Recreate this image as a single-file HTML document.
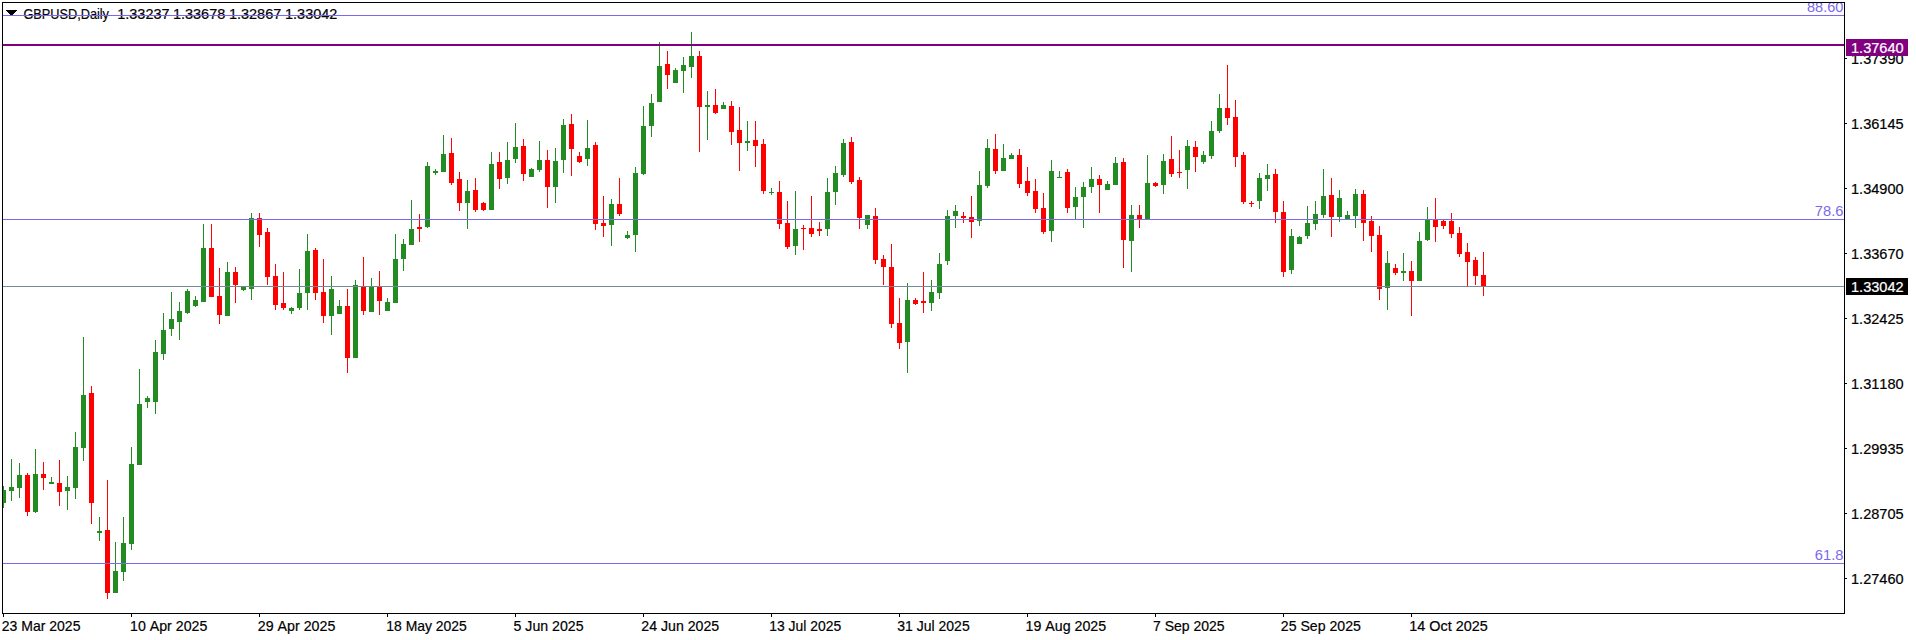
<!DOCTYPE html>
<html lang="en"><head><meta charset="utf-8"><title>GBPUSD,Daily</title>
<style>html,body{margin:0;padding:0;background:#fff;overflow:hidden}svg{display:block}text{font-family:"Liberation Sans", sans-serif;font-size:14.4px;font-kerning:none;stroke-width:.2px}</style>
</head><body>
<svg width="1916" height="640" viewBox="0 0 1916 640">
<rect width="1916" height="640" fill="#fff"/>
<g id="title" fill="#000" stroke="#000">
<path d="M6 10h11v1h-1v1h-1v1h-1v1h-1v1h-1v1h-1v-1h-1v-1h-1v-1h-1v-1h-1v-1h-1z" stroke="none" shape-rendering="crispEdges"/>
<text x="23.4" y="19" textLength="85.6" lengthAdjust="spacingAndGlyphs">GBPUSD,Daily</text>
<text x="117.2" y="19" textLength="52.4" lengthAdjust="spacingAndGlyphs">1.33237</text>
<text x="172.9" y="19" textLength="52.4" lengthAdjust="spacingAndGlyphs">1.33678</text>
<text x="228.9" y="19" textLength="52.4" lengthAdjust="spacingAndGlyphs">1.32867</text>
<text x="285" y="19" textLength="52.4" lengthAdjust="spacingAndGlyphs">1.33042</text>
</g>
<g id="candles" shape-rendering="crispEdges">
<rect x="3" y="486" width="1" height="22" fill="#228B22"/>
<rect x="3" y="490" width="3" height="13" fill="#228B22"/>
<rect x="11" y="459" width="1" height="42" fill="#228B22"/>
<rect x="9" y="487" width="5" height="4" fill="#228B22"/>
<rect x="19" y="463" width="1" height="35" fill="#228B22"/>
<rect x="17" y="475" width="5" height="13" fill="#228B22"/>
<rect x="27" y="473" width="1" height="43" fill="#FF0000"/>
<rect x="25" y="475" width="5" height="37" fill="#FF0000"/>
<rect x="35" y="449" width="1" height="64" fill="#228B22"/>
<rect x="33" y="474" width="5" height="38" fill="#228B22"/>
<rect x="43" y="462" width="1" height="28" fill="#FF0000"/>
<rect x="41" y="474" width="5" height="4" fill="#FF0000"/>
<rect x="51" y="477" width="1" height="7" fill="#228B22"/>
<rect x="49" y="482" width="5" height="2" fill="#228B22"/>
<rect x="59" y="460" width="1" height="46" fill="#FF0000"/>
<rect x="57" y="483" width="5" height="9" fill="#FF0000"/>
<rect x="67" y="476" width="1" height="34" fill="#228B22"/>
<rect x="65" y="487" width="5" height="4" fill="#228B22"/>
<rect x="75" y="432" width="1" height="67" fill="#228B22"/>
<rect x="73" y="447" width="5" height="41" fill="#228B22"/>
<rect x="83" y="337" width="1" height="124" fill="#228B22"/>
<rect x="81" y="395" width="5" height="53" fill="#228B22"/>
<rect x="91" y="386" width="1" height="138" fill="#FF0000"/>
<rect x="89" y="393" width="5" height="110" fill="#FF0000"/>
<rect x="99" y="517" width="1" height="24" fill="#228B22"/>
<rect x="97" y="531" width="5" height="2" fill="#228B22"/>
<rect x="107" y="480" width="1" height="119" fill="#FF0000"/>
<rect x="105" y="530" width="5" height="63" fill="#FF0000"/>
<rect x="115" y="542" width="1" height="51" fill="#228B22"/>
<rect x="113" y="571" width="5" height="22" fill="#228B22"/>
<rect x="123" y="517" width="1" height="64" fill="#228B22"/>
<rect x="121" y="543" width="5" height="29" fill="#228B22"/>
<rect x="131" y="447" width="1" height="103" fill="#228B22"/>
<rect x="129" y="464" width="5" height="80" fill="#228B22"/>
<rect x="139" y="369" width="1" height="96" fill="#228B22"/>
<rect x="137" y="404" width="5" height="61" fill="#228B22"/>
<rect x="147" y="396" width="1" height="12" fill="#228B22"/>
<rect x="145" y="398" width="5" height="4" fill="#228B22"/>
<rect x="155" y="340" width="1" height="74" fill="#228B22"/>
<rect x="153" y="352" width="5" height="50" fill="#228B22"/>
<rect x="163" y="313" width="1" height="47" fill="#228B22"/>
<rect x="161" y="330" width="5" height="24" fill="#228B22"/>
<rect x="171" y="292" width="1" height="44" fill="#228B22"/>
<rect x="169" y="319" width="5" height="10" fill="#228B22"/>
<rect x="179" y="302" width="1" height="38" fill="#228B22"/>
<rect x="177" y="311" width="5" height="11" fill="#228B22"/>
<rect x="187" y="289" width="1" height="25" fill="#228B22"/>
<rect x="185" y="291" width="5" height="22" fill="#228B22"/>
<rect x="195" y="296" width="1" height="11" fill="#228B22"/>
<rect x="193" y="300" width="5" height="6" fill="#228B22"/>
<rect x="203" y="224" width="1" height="78" fill="#228B22"/>
<rect x="201" y="248" width="5" height="54" fill="#228B22"/>
<rect x="211" y="224" width="1" height="73" fill="#FF0000"/>
<rect x="209" y="248" width="5" height="49" fill="#FF0000"/>
<rect x="219" y="268" width="1" height="56" fill="#FF0000"/>
<rect x="217" y="296" width="5" height="19" fill="#FF0000"/>
<rect x="227" y="262" width="1" height="54" fill="#228B22"/>
<rect x="225" y="272" width="5" height="44" fill="#228B22"/>
<rect x="235" y="267" width="1" height="36" fill="#FF0000"/>
<rect x="233" y="272" width="5" height="13" fill="#FF0000"/>
<rect x="243" y="286" width="1" height="5" fill="#228B22"/>
<rect x="241" y="287" width="5" height="3" fill="#228B22"/>
<rect x="251" y="213" width="1" height="87" fill="#228B22"/>
<rect x="249" y="218" width="5" height="71" fill="#228B22"/>
<rect x="259" y="213" width="1" height="34" fill="#FF0000"/>
<rect x="257" y="218" width="5" height="17" fill="#FF0000"/>
<rect x="267" y="228" width="1" height="57" fill="#FF0000"/>
<rect x="265" y="232" width="5" height="45" fill="#FF0000"/>
<rect x="275" y="264" width="1" height="46" fill="#FF0000"/>
<rect x="273" y="276" width="5" height="29" fill="#FF0000"/>
<rect x="283" y="272" width="1" height="38" fill="#FF0000"/>
<rect x="281" y="303" width="5" height="5" fill="#FF0000"/>
<rect x="291" y="307" width="1" height="7" fill="#228B22"/>
<rect x="289" y="308" width="5" height="3" fill="#228B22"/>
<rect x="299" y="269" width="1" height="41" fill="#228B22"/>
<rect x="297" y="293" width="5" height="15" fill="#228B22"/>
<rect x="307" y="234" width="1" height="76" fill="#228B22"/>
<rect x="305" y="251" width="5" height="42" fill="#228B22"/>
<rect x="315" y="248" width="1" height="52" fill="#FF0000"/>
<rect x="313" y="250" width="5" height="43" fill="#FF0000"/>
<rect x="323" y="259" width="1" height="64" fill="#FF0000"/>
<rect x="321" y="292" width="5" height="24" fill="#FF0000"/>
<rect x="331" y="276" width="1" height="59" fill="#228B22"/>
<rect x="329" y="289" width="5" height="27" fill="#228B22"/>
<rect x="339" y="300" width="1" height="14" fill="#228B22"/>
<rect x="337" y="306" width="5" height="8" fill="#228B22"/>
<rect x="347" y="289" width="1" height="84" fill="#FF0000"/>
<rect x="345" y="306" width="5" height="52" fill="#FF0000"/>
<rect x="355" y="280" width="1" height="78" fill="#228B22"/>
<rect x="353" y="285" width="5" height="73" fill="#228B22"/>
<rect x="363" y="257" width="1" height="58" fill="#FF0000"/>
<rect x="361" y="286" width="5" height="25" fill="#FF0000"/>
<rect x="371" y="278" width="1" height="34" fill="#228B22"/>
<rect x="369" y="287" width="5" height="25" fill="#228B22"/>
<rect x="379" y="271" width="1" height="44" fill="#FF0000"/>
<rect x="377" y="287" width="5" height="14" fill="#FF0000"/>
<rect x="387" y="298" width="1" height="13" fill="#228B22"/>
<rect x="385" y="302" width="5" height="9" fill="#228B22"/>
<rect x="395" y="234" width="1" height="69" fill="#228B22"/>
<rect x="393" y="259" width="5" height="44" fill="#228B22"/>
<rect x="403" y="239" width="1" height="32" fill="#228B22"/>
<rect x="401" y="244" width="5" height="15" fill="#228B22"/>
<rect x="411" y="200" width="1" height="45" fill="#228B22"/>
<rect x="409" y="229" width="5" height="16" fill="#228B22"/>
<rect x="419" y="214" width="1" height="28" fill="#FF0000"/>
<rect x="417" y="227" width="5" height="2" fill="#FF0000"/>
<rect x="427" y="162" width="1" height="66" fill="#228B22"/>
<rect x="425" y="166" width="5" height="61" fill="#228B22"/>
<rect x="435" y="169" width="1" height="6" fill="#228B22"/>
<rect x="433" y="171" width="5" height="2" fill="#228B22"/>
<rect x="443" y="135" width="1" height="37" fill="#228B22"/>
<rect x="441" y="154" width="5" height="18" fill="#228B22"/>
<rect x="451" y="138" width="1" height="47" fill="#FF0000"/>
<rect x="449" y="153" width="5" height="30" fill="#FF0000"/>
<rect x="459" y="172" width="1" height="39" fill="#FF0000"/>
<rect x="457" y="179" width="5" height="24" fill="#FF0000"/>
<rect x="467" y="180" width="1" height="49" fill="#228B22"/>
<rect x="465" y="191" width="5" height="12" fill="#228B22"/>
<rect x="475" y="178" width="1" height="34" fill="#FF0000"/>
<rect x="473" y="190" width="5" height="20" fill="#FF0000"/>
<rect x="483" y="202" width="1" height="9" fill="#FF0000"/>
<rect x="481" y="203" width="5" height="7" fill="#FF0000"/>
<rect x="491" y="152" width="1" height="58" fill="#228B22"/>
<rect x="489" y="164" width="5" height="46" fill="#228B22"/>
<rect x="499" y="152" width="1" height="37" fill="#FF0000"/>
<rect x="497" y="162" width="5" height="17" fill="#FF0000"/>
<rect x="507" y="142" width="1" height="42" fill="#228B22"/>
<rect x="505" y="160" width="5" height="18" fill="#228B22"/>
<rect x="515" y="123" width="1" height="40" fill="#228B22"/>
<rect x="513" y="147" width="5" height="12" fill="#228B22"/>
<rect x="523" y="139" width="1" height="42" fill="#FF0000"/>
<rect x="521" y="146" width="5" height="28" fill="#FF0000"/>
<rect x="531" y="168" width="1" height="9" fill="#228B22"/>
<rect x="529" y="169" width="5" height="8" fill="#228B22"/>
<rect x="539" y="141" width="1" height="31" fill="#228B22"/>
<rect x="537" y="160" width="5" height="10" fill="#228B22"/>
<rect x="547" y="150" width="1" height="58" fill="#FF0000"/>
<rect x="545" y="160" width="5" height="27" fill="#FF0000"/>
<rect x="555" y="148" width="1" height="55" fill="#228B22"/>
<rect x="553" y="161" width="5" height="26" fill="#228B22"/>
<rect x="563" y="119" width="1" height="54" fill="#228B22"/>
<rect x="561" y="125" width="5" height="35" fill="#228B22"/>
<rect x="571" y="114" width="1" height="62" fill="#FF0000"/>
<rect x="569" y="124" width="5" height="25" fill="#FF0000"/>
<rect x="579" y="152" width="1" height="11" fill="#FF0000"/>
<rect x="577" y="156" width="5" height="6" fill="#FF0000"/>
<rect x="587" y="120" width="1" height="46" fill="#228B22"/>
<rect x="585" y="148" width="5" height="11" fill="#228B22"/>
<rect x="595" y="142" width="1" height="88" fill="#FF0000"/>
<rect x="593" y="145" width="5" height="79" fill="#FF0000"/>
<rect x="603" y="196" width="1" height="41" fill="#FF0000"/>
<rect x="601" y="223" width="5" height="3" fill="#FF0000"/>
<rect x="611" y="199" width="1" height="47" fill="#228B22"/>
<rect x="609" y="204" width="5" height="21" fill="#228B22"/>
<rect x="619" y="178" width="1" height="38" fill="#FF0000"/>
<rect x="617" y="204" width="5" height="10" fill="#FF0000"/>
<rect x="627" y="231" width="1" height="8" fill="#228B22"/>
<rect x="625" y="235" width="5" height="3" fill="#228B22"/>
<rect x="635" y="167" width="1" height="85" fill="#228B22"/>
<rect x="633" y="173" width="5" height="62" fill="#228B22"/>
<rect x="643" y="106" width="1" height="69" fill="#228B22"/>
<rect x="641" y="126" width="5" height="48" fill="#228B22"/>
<rect x="651" y="94" width="1" height="43" fill="#228B22"/>
<rect x="649" y="103" width="5" height="23" fill="#228B22"/>
<rect x="659" y="42" width="1" height="60" fill="#228B22"/>
<rect x="657" y="66" width="5" height="36" fill="#228B22"/>
<rect x="667" y="51" width="1" height="38" fill="#FF0000"/>
<rect x="665" y="64" width="5" height="11" fill="#FF0000"/>
<rect x="675" y="68" width="1" height="15" fill="#228B22"/>
<rect x="673" y="70" width="5" height="13" fill="#228B22"/>
<rect x="683" y="57" width="1" height="36" fill="#228B22"/>
<rect x="681" y="65" width="5" height="6" fill="#228B22"/>
<rect x="691" y="32" width="1" height="46" fill="#228B22"/>
<rect x="689" y="56" width="5" height="11" fill="#228B22"/>
<rect x="699" y="51" width="1" height="101" fill="#FF0000"/>
<rect x="697" y="56" width="5" height="51" fill="#FF0000"/>
<rect x="707" y="91" width="1" height="49" fill="#228B22"/>
<rect x="705" y="105" width="5" height="2" fill="#228B22"/>
<rect x="715" y="89" width="1" height="25" fill="#FF0000"/>
<rect x="713" y="105" width="5" height="8" fill="#FF0000"/>
<rect x="723" y="102" width="1" height="7" fill="#228B22"/>
<rect x="721" y="105" width="5" height="4" fill="#228B22"/>
<rect x="731" y="101" width="1" height="44" fill="#FF0000"/>
<rect x="729" y="106" width="5" height="26" fill="#FF0000"/>
<rect x="739" y="107" width="1" height="64" fill="#FF0000"/>
<rect x="737" y="130" width="5" height="13" fill="#FF0000"/>
<rect x="747" y="121" width="1" height="30" fill="#228B22"/>
<rect x="745" y="141" width="5" height="2" fill="#228B22"/>
<rect x="755" y="121" width="1" height="46" fill="#FF0000"/>
<rect x="753" y="140" width="5" height="6" fill="#FF0000"/>
<rect x="763" y="139" width="1" height="55" fill="#FF0000"/>
<rect x="761" y="144" width="5" height="47" fill="#FF0000"/>
<rect x="771" y="188" width="1" height="7" fill="#228B22"/>
<rect x="769" y="192" width="5" height="1" fill="#228B22"/>
<rect x="779" y="181" width="1" height="48" fill="#FF0000"/>
<rect x="777" y="192" width="5" height="32" fill="#FF0000"/>
<rect x="787" y="201" width="1" height="48" fill="#FF0000"/>
<rect x="785" y="223" width="5" height="24" fill="#FF0000"/>
<rect x="795" y="191" width="1" height="64" fill="#228B22"/>
<rect x="793" y="229" width="5" height="17" fill="#228B22"/>
<rect x="803" y="225" width="1" height="25" fill="#FF0000"/>
<rect x="801" y="228" width="5" height="1" fill="#FF0000"/>
<rect x="811" y="196" width="1" height="41" fill="#FF0000"/>
<rect x="809" y="228" width="5" height="6" fill="#FF0000"/>
<rect x="819" y="222" width="1" height="14" fill="#FF0000"/>
<rect x="817" y="229" width="5" height="2" fill="#FF0000"/>
<rect x="827" y="178" width="1" height="58" fill="#228B22"/>
<rect x="825" y="192" width="5" height="37" fill="#228B22"/>
<rect x="835" y="166" width="1" height="39" fill="#228B22"/>
<rect x="833" y="173" width="5" height="19" fill="#228B22"/>
<rect x="843" y="139" width="1" height="38" fill="#228B22"/>
<rect x="841" y="143" width="5" height="32" fill="#228B22"/>
<rect x="851" y="137" width="1" height="47" fill="#FF0000"/>
<rect x="849" y="142" width="5" height="40" fill="#FF0000"/>
<rect x="859" y="177" width="1" height="52" fill="#FF0000"/>
<rect x="857" y="180" width="5" height="38" fill="#FF0000"/>
<rect x="867" y="215" width="1" height="14" fill="#228B22"/>
<rect x="865" y="215" width="5" height="10" fill="#228B22"/>
<rect x="875" y="208" width="1" height="56" fill="#FF0000"/>
<rect x="873" y="216" width="5" height="44" fill="#FF0000"/>
<rect x="883" y="255" width="1" height="30" fill="#FF0000"/>
<rect x="881" y="259" width="5" height="8" fill="#FF0000"/>
<rect x="891" y="244" width="1" height="84" fill="#FF0000"/>
<rect x="889" y="267" width="5" height="57" fill="#FF0000"/>
<rect x="899" y="298" width="1" height="51" fill="#FF0000"/>
<rect x="897" y="323" width="5" height="20" fill="#FF0000"/>
<rect x="907" y="283" width="1" height="90" fill="#228B22"/>
<rect x="905" y="300" width="5" height="42" fill="#228B22"/>
<rect x="915" y="298" width="1" height="7" fill="#FF0000"/>
<rect x="913" y="300" width="5" height="4" fill="#FF0000"/>
<rect x="923" y="272" width="1" height="41" fill="#FF0000"/>
<rect x="921" y="301" width="5" height="2" fill="#FF0000"/>
<rect x="931" y="280" width="1" height="31" fill="#228B22"/>
<rect x="929" y="292" width="5" height="11" fill="#228B22"/>
<rect x="939" y="253" width="1" height="46" fill="#228B22"/>
<rect x="937" y="264" width="5" height="29" fill="#228B22"/>
<rect x="947" y="210" width="1" height="55" fill="#228B22"/>
<rect x="945" y="216" width="5" height="45" fill="#228B22"/>
<rect x="955" y="205" width="1" height="23" fill="#228B22"/>
<rect x="953" y="211" width="5" height="5" fill="#228B22"/>
<rect x="963" y="212" width="1" height="11" fill="#FF0000"/>
<rect x="961" y="216" width="5" height="2" fill="#FF0000"/>
<rect x="971" y="196" width="1" height="42" fill="#FF0000"/>
<rect x="969" y="217" width="5" height="5" fill="#FF0000"/>
<rect x="979" y="171" width="1" height="55" fill="#228B22"/>
<rect x="977" y="185" width="5" height="36" fill="#228B22"/>
<rect x="987" y="139" width="1" height="49" fill="#228B22"/>
<rect x="985" y="148" width="5" height="38" fill="#228B22"/>
<rect x="995" y="134" width="1" height="40" fill="#FF0000"/>
<rect x="993" y="149" width="5" height="22" fill="#FF0000"/>
<rect x="1003" y="144" width="1" height="27" fill="#228B22"/>
<rect x="1001" y="158" width="5" height="13" fill="#228B22"/>
<rect x="1011" y="153" width="1" height="6" fill="#228B22"/>
<rect x="1009" y="155" width="5" height="4" fill="#228B22"/>
<rect x="1019" y="149" width="1" height="39" fill="#FF0000"/>
<rect x="1017" y="155" width="5" height="29" fill="#FF0000"/>
<rect x="1027" y="167" width="1" height="29" fill="#FF0000"/>
<rect x="1025" y="181" width="5" height="12" fill="#FF0000"/>
<rect x="1035" y="179" width="1" height="34" fill="#FF0000"/>
<rect x="1033" y="191" width="5" height="18" fill="#FF0000"/>
<rect x="1043" y="193" width="1" height="41" fill="#FF0000"/>
<rect x="1041" y="208" width="5" height="24" fill="#FF0000"/>
<rect x="1051" y="160" width="1" height="82" fill="#228B22"/>
<rect x="1049" y="171" width="5" height="60" fill="#228B22"/>
<rect x="1059" y="171" width="1" height="7" fill="#228B22"/>
<rect x="1057" y="177" width="5" height="1" fill="#228B22"/>
<rect x="1067" y="169" width="1" height="44" fill="#FF0000"/>
<rect x="1065" y="172" width="5" height="36" fill="#FF0000"/>
<rect x="1075" y="187" width="1" height="32" fill="#228B22"/>
<rect x="1073" y="197" width="5" height="10" fill="#228B22"/>
<rect x="1083" y="182" width="1" height="46" fill="#228B22"/>
<rect x="1081" y="187" width="5" height="10" fill="#228B22"/>
<rect x="1091" y="167" width="1" height="26" fill="#228B22"/>
<rect x="1089" y="179" width="5" height="8" fill="#228B22"/>
<rect x="1099" y="175" width="1" height="38" fill="#FF0000"/>
<rect x="1097" y="179" width="5" height="6" fill="#FF0000"/>
<rect x="1107" y="181" width="1" height="9" fill="#228B22"/>
<rect x="1105" y="184" width="5" height="6" fill="#228B22"/>
<rect x="1115" y="157" width="1" height="28" fill="#228B22"/>
<rect x="1113" y="163" width="5" height="22" fill="#228B22"/>
<rect x="1123" y="158" width="1" height="110" fill="#FF0000"/>
<rect x="1121" y="162" width="5" height="78" fill="#FF0000"/>
<rect x="1131" y="205" width="1" height="67" fill="#228B22"/>
<rect x="1129" y="215" width="5" height="26" fill="#228B22"/>
<rect x="1139" y="205" width="1" height="23" fill="#FF0000"/>
<rect x="1137" y="215" width="5" height="4" fill="#FF0000"/>
<rect x="1147" y="155" width="1" height="64" fill="#228B22"/>
<rect x="1145" y="183" width="5" height="36" fill="#228B22"/>
<rect x="1155" y="182" width="1" height="5" fill="#FF0000"/>
<rect x="1153" y="183" width="5" height="3" fill="#FF0000"/>
<rect x="1163" y="154" width="1" height="40" fill="#228B22"/>
<rect x="1161" y="161" width="5" height="24" fill="#228B22"/>
<rect x="1171" y="136" width="1" height="41" fill="#FF0000"/>
<rect x="1169" y="159" width="5" height="15" fill="#FF0000"/>
<rect x="1179" y="150" width="1" height="28" fill="#FF0000"/>
<rect x="1177" y="172" width="5" height="1" fill="#FF0000"/>
<rect x="1187" y="140" width="1" height="49" fill="#228B22"/>
<rect x="1185" y="146" width="5" height="24" fill="#228B22"/>
<rect x="1195" y="141" width="1" height="31" fill="#FF0000"/>
<rect x="1193" y="147" width="5" height="10" fill="#FF0000"/>
<rect x="1203" y="151" width="1" height="13" fill="#228B22"/>
<rect x="1201" y="155" width="5" height="7" fill="#228B22"/>
<rect x="1211" y="121" width="1" height="38" fill="#228B22"/>
<rect x="1209" y="131" width="5" height="25" fill="#228B22"/>
<rect x="1219" y="94" width="1" height="39" fill="#228B22"/>
<rect x="1217" y="108" width="5" height="23" fill="#228B22"/>
<rect x="1227" y="65" width="1" height="60" fill="#FF0000"/>
<rect x="1225" y="108" width="5" height="10" fill="#FF0000"/>
<rect x="1235" y="100" width="1" height="67" fill="#FF0000"/>
<rect x="1233" y="117" width="5" height="40" fill="#FF0000"/>
<rect x="1243" y="152" width="1" height="52" fill="#FF0000"/>
<rect x="1241" y="155" width="5" height="47" fill="#FF0000"/>
<rect x="1251" y="201" width="1" height="6" fill="#FF0000"/>
<rect x="1249" y="203" width="5" height="1" fill="#FF0000"/>
<rect x="1259" y="173" width="1" height="36" fill="#228B22"/>
<rect x="1257" y="178" width="5" height="23" fill="#228B22"/>
<rect x="1267" y="164" width="1" height="27" fill="#228B22"/>
<rect x="1265" y="175" width="5" height="4" fill="#228B22"/>
<rect x="1275" y="169" width="1" height="54" fill="#FF0000"/>
<rect x="1273" y="174" width="5" height="38" fill="#FF0000"/>
<rect x="1283" y="201" width="1" height="76" fill="#FF0000"/>
<rect x="1281" y="212" width="5" height="60" fill="#FF0000"/>
<rect x="1291" y="229" width="1" height="45" fill="#228B22"/>
<rect x="1289" y="236" width="5" height="34" fill="#228B22"/>
<rect x="1299" y="236" width="1" height="8" fill="#228B22"/>
<rect x="1297" y="237" width="5" height="7" fill="#228B22"/>
<rect x="1307" y="206" width="1" height="33" fill="#228B22"/>
<rect x="1305" y="223" width="5" height="13" fill="#228B22"/>
<rect x="1315" y="201" width="1" height="29" fill="#228B22"/>
<rect x="1313" y="214" width="5" height="10" fill="#228B22"/>
<rect x="1323" y="169" width="1" height="49" fill="#228B22"/>
<rect x="1321" y="196" width="5" height="19" fill="#228B22"/>
<rect x="1331" y="178" width="1" height="59" fill="#FF0000"/>
<rect x="1329" y="195" width="5" height="22" fill="#FF0000"/>
<rect x="1339" y="190" width="1" height="32" fill="#228B22"/>
<rect x="1337" y="198" width="5" height="19" fill="#228B22"/>
<rect x="1347" y="211" width="1" height="8" fill="#228B22"/>
<rect x="1345" y="215" width="5" height="4" fill="#228B22"/>
<rect x="1355" y="189" width="1" height="39" fill="#228B22"/>
<rect x="1353" y="194" width="5" height="22" fill="#228B22"/>
<rect x="1363" y="190" width="1" height="51" fill="#FF0000"/>
<rect x="1361" y="194" width="5" height="29" fill="#FF0000"/>
<rect x="1371" y="216" width="1" height="36" fill="#FF0000"/>
<rect x="1369" y="221" width="5" height="15" fill="#FF0000"/>
<rect x="1379" y="226" width="1" height="74" fill="#FF0000"/>
<rect x="1377" y="235" width="5" height="54" fill="#FF0000"/>
<rect x="1387" y="251" width="1" height="59" fill="#228B22"/>
<rect x="1385" y="263" width="5" height="25" fill="#228B22"/>
<rect x="1395" y="264" width="1" height="11" fill="#FF0000"/>
<rect x="1393" y="268" width="5" height="5" fill="#FF0000"/>
<rect x="1403" y="253" width="1" height="28" fill="#228B22"/>
<rect x="1401" y="271" width="5" height="2" fill="#228B22"/>
<rect x="1411" y="261" width="1" height="55" fill="#FF0000"/>
<rect x="1409" y="271" width="5" height="10" fill="#FF0000"/>
<rect x="1419" y="232" width="1" height="49" fill="#228B22"/>
<rect x="1417" y="241" width="5" height="40" fill="#228B22"/>
<rect x="1427" y="207" width="1" height="34" fill="#228B22"/>
<rect x="1425" y="219" width="5" height="21" fill="#228B22"/>
<rect x="1435" y="198" width="1" height="44" fill="#FF0000"/>
<rect x="1433" y="219" width="5" height="8" fill="#FF0000"/>
<rect x="1443" y="220" width="1" height="9" fill="#FF0000"/>
<rect x="1441" y="221" width="5" height="5" fill="#FF0000"/>
<rect x="1451" y="213" width="1" height="25" fill="#FF0000"/>
<rect x="1449" y="221" width="5" height="13" fill="#FF0000"/>
<rect x="1459" y="227" width="1" height="30" fill="#FF0000"/>
<rect x="1457" y="233" width="5" height="21" fill="#FF0000"/>
<rect x="1467" y="243" width="1" height="43" fill="#FF0000"/>
<rect x="1465" y="252" width="5" height="10" fill="#FF0000"/>
<rect x="1475" y="257" width="1" height="28" fill="#FF0000"/>
<rect x="1473" y="260" width="5" height="16" fill="#FF0000"/>
<rect x="1483" y="252" width="1" height="44" fill="#FF0000"/>
<rect x="1481" y="275" width="5" height="12" fill="#FF0000"/>
</g>
<g id="lines" shape-rendering="crispEdges">
<rect x="3" y="15" width="1841" height="1" fill="#7B68EE"/>
<rect x="3" y="219" width="1841" height="1" fill="#7B68EE"/>
<rect x="3" y="563" width="1841" height="1" fill="#7B68EE"/>
<rect x="3" y="286" width="1841" height="1" fill="#778899"/>
<rect x="3" y="44" width="1841" height="2" fill="#800080"/>
</g>
<g id="fib" fill="#7B68EE" text-anchor="end">
<svg x="3" y="3" width="1841" height="610" viewBox="3 3 1841 610"><text x="1843.4" y="12" textLength="36.4" lengthAdjust="spacingAndGlyphs">88.60</text></svg>
<text x="1843.4" y="216" textLength="28.6" lengthAdjust="spacingAndGlyphs">78.6</text>
<text x="1843.4" y="560" textLength="28.6" lengthAdjust="spacingAndGlyphs">61.8</text>
</g>
<g id="frame" fill="#000" shape-rendering="crispEdges">
<rect x="2" y="2" width="1843" height="1"/>
<rect x="2" y="613" width="1843" height="1"/>
<rect x="2" y="2" width="1" height="612"/>
<rect x="1844" y="2" width="1" height="612"/>
<rect x="1845" y="58" width="2" height="1"/>
<rect x="1845" y="123" width="2" height="1"/>
<rect x="1845" y="188" width="2" height="1"/>
<rect x="1845" y="253" width="2" height="1"/>
<rect x="1845" y="318" width="2" height="1"/>
<rect x="1845" y="383" width="2" height="1"/>
<rect x="1845" y="448" width="2" height="1"/>
<rect x="1845" y="513" width="2" height="1"/>
<rect x="1845" y="578" width="2" height="1"/>
<rect x="3" y="614" width="1" height="3"/>
<rect x="131" y="614" width="1" height="3"/>
<rect x="259" y="614" width="1" height="3"/>
<rect x="387" y="614" width="1" height="3"/>
<rect x="515" y="614" width="1" height="3"/>
<rect x="643" y="614" width="1" height="3"/>
<rect x="771" y="614" width="1" height="3"/>
<rect x="899" y="614" width="1" height="3"/>
<rect x="1027" y="614" width="1" height="3"/>
<rect x="1155" y="614" width="1" height="3"/>
<rect x="1283" y="614" width="1" height="3"/>
<rect x="1411" y="614" width="1" height="3"/>
</g>
<g id="prices" fill="#000" stroke="#000">
<text x="1851" y="64" textLength="52.6" lengthAdjust="spacingAndGlyphs">1.37390</text>
<text x="1851" y="129" textLength="52.6" lengthAdjust="spacingAndGlyphs">1.36145</text>
<text x="1851" y="194" textLength="52.6" lengthAdjust="spacingAndGlyphs">1.34900</text>
<text x="1851" y="259" textLength="52.6" lengthAdjust="spacingAndGlyphs">1.33670</text>
<text x="1851" y="324" textLength="52.6" lengthAdjust="spacingAndGlyphs">1.32425</text>
<text x="1851" y="389" textLength="52.6" lengthAdjust="spacingAndGlyphs">1.31180</text>
<text x="1851" y="454" textLength="52.6" lengthAdjust="spacingAndGlyphs">1.29935</text>
<text x="1851" y="519" textLength="52.6" lengthAdjust="spacingAndGlyphs">1.28705</text>
<text x="1851" y="584" textLength="52.6" lengthAdjust="spacingAndGlyphs">1.27460</text>
</g>
<rect x="1846" y="39" width="62" height="17" fill="#800080" shape-rendering="crispEdges"/>
<text x="1851" y="53" fill="#fff" stroke="#fff" textLength="52.6" lengthAdjust="spacingAndGlyphs">1.37640</text>
<rect x="1846" y="278" width="62" height="17" fill="#000" shape-rendering="crispEdges"/>
<text x="1851" y="292" fill="#fff" stroke="#fff" textLength="52.6" lengthAdjust="spacingAndGlyphs">1.33042</text>
<g id="dates" fill="#000" stroke="#000">
<text x="1.8" y="631" textLength="78.66" lengthAdjust="spacingAndGlyphs">23 Mar 2025</text>
<text x="130.1" y="631" textLength="77.2" lengthAdjust="spacingAndGlyphs">10 Apr 2025</text>
<text x="257.8" y="631" textLength="77.5" lengthAdjust="spacingAndGlyphs">29 Apr 2025</text>
<text x="386.3" y="631" textLength="80.56" lengthAdjust="spacingAndGlyphs">18 May 2025</text>
<text x="513.55" y="631" textLength="69.95" lengthAdjust="spacingAndGlyphs">5 Jun 2025</text>
<text x="641.3" y="631" textLength="77.96" lengthAdjust="spacingAndGlyphs">24 Jun 2025</text>
<text x="769.3" y="631" textLength="71.87" lengthAdjust="spacingAndGlyphs">13 Jul 2025</text>
<text x="897.3" y="631" textLength="72.38" lengthAdjust="spacingAndGlyphs">31 Jul 2025</text>
<text x="1025.55" y="631" textLength="80.57" lengthAdjust="spacingAndGlyphs">19 Aug 2025</text>
<text x="1153.05" y="631" textLength="71.58" lengthAdjust="spacingAndGlyphs">7 Sep 2025</text>
<text x="1280.8" y="631" textLength="80.09" lengthAdjust="spacingAndGlyphs">25 Sep 2025</text>
<text x="1409.3" y="631" textLength="78.4" lengthAdjust="spacingAndGlyphs">14 Oct 2025</text>
</g>
</svg>
</body></html>
